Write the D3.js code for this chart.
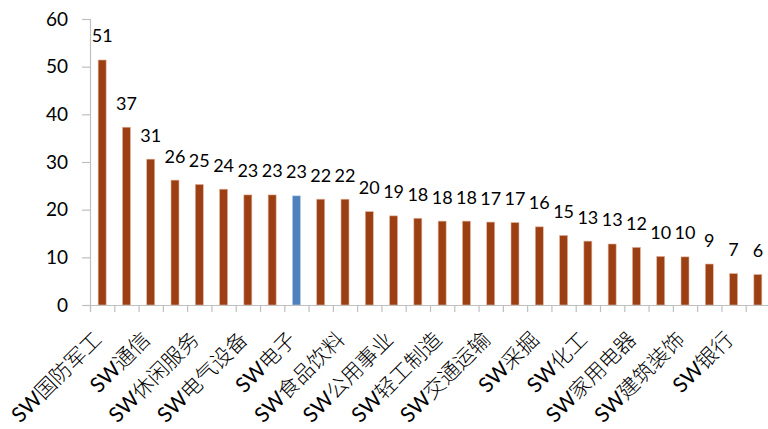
<!DOCTYPE html>
<html>
<head>
<meta charset="utf-8">
<script src="https://cdn.jsdelivr.net/npm/d3@7/dist/d3.min.js"></script>
<style>
  html, body { margin: 0; padding: 0; background: #fff; }
  svg { display: block; }
</style>
</head>
<body>
<svg id="chart" width="768" height="429"></svg>
<script>
// Categories (every other one is labelled on the axis, as in the reference)
const categories = [
  "SW国防军工", "SW计算机", "SW通信", "SW传媒", "SW休闲服务", "SW医药生物",
  "SW电气设备", "SW机械设备", "SW电子", "SW汽车", "SW食品饮料", "SW纺织服装",
  "SW公用事业", "SW商业贸易", "SW轻工制造", "SW农林牧渔", "SW交通运输", "SW有色金属",
  "SW采掘", "SW钢铁", "SW化工", "SW建筑材料", "SW家用电器", "SW房地产",
  "SW建筑装饰", "SW综合", "SW银行", "SW非银金融"
];
const values = [
  51.4, 37.3, 30.6, 26.2, 25.3, 24.3, 23.1, 23.1, 22.9, 22.2, 22.2, 19.6,
  18.7, 18.2, 17.6, 17.6, 17.4, 17.3, 16.4, 14.6, 13.4, 12.8, 12.1, 10.2,
  10.1, 8.6, 6.6, 6.4
];
const highlighted = ["SW电子"];
const yTicks = [0, 10, 20, 30, 40, 50, 60];

const svg = d3.select("#chart");
const x0 = 90, x1 = 770, yBase = 305, yTop = 19;

const x = d3.scaleBand().domain(categories).range([x0, x1]).paddingInner(0).paddingOuter(0);
const xEdge = d3.scaleLinear().domain([0, categories.length]).range([x0, x1]);
const y = d3.scaleLinear().domain([0, 60]).range([yBase, yTop]);

const axisColor = "#BFBFBF";
const font = "Lato, 'Noto Sans CJK SC', sans-serif";
const cjkFont = "'Noto Sans CJK SC', sans-serif";

// Y axis
const yAxis = svg.append("g")
  .attr("transform", `translate(${x0},0)`)
  .call(d3.axisLeft(y).tickValues(yTicks).tickSize(8).tickPadding(14).tickFormat(d3.format("d")));
yAxis.select(".domain").attr("stroke", axisColor).attr("stroke-width", 1.2);
yAxis.selectAll(".tick line").attr("stroke", axisColor).attr("stroke-width", 1.2);
yAxis.selectAll(".tick text")
  .attr("fill", "#000").attr("font-size", 19).attr("font-family", font);

// Bars
const barW = 8;
svg.append("g").selectAll("rect")
  .data(categories)
  .join("rect")
  .attr("x", (d) => x(d) + x.bandwidth() / 2 - barW / 2)
  .attr("y", (d, i) => y(values[i]))
  .attr("width", barW)
  .attr("height", (d, i) => y(0) - y(values[i]))
  .attr("fill", (d) => highlighted.includes(d) ? "#4F81BD" : "#9C3F12")
  .attr("stroke", (d) => highlighted.includes(d) ? "#B9CDE5" : "#E3B7A3")
  .attr("stroke-width", 0.6);

// X axis: line with ticks at category boundaries
const xAxis = svg.append("g")
  .attr("transform", `translate(0,${yBase})`)
  .call(d3.axisBottom(xEdge).tickValues(d3.range(categories.length + 1)).tickSize(7).tickFormat(""));
xAxis.select(".domain").attr("stroke", axisColor).attr("stroke-width", 1.2);
xAxis.selectAll(".tick line").attr("stroke", axisColor).attr("stroke-width", 1.2);

// Category labels (every other), rotated -45
const labels = svg.append("g").selectAll("text")
  .data(categories.filter((d, i) => i % 2 === 0))
  .join("text")
  .attr("transform", (d) => `translate(${x(d) + x.bandwidth() / 2 + 1},${yBase + 36}) rotate(-45)`)
  .attr("text-anchor", "end")
  .attr("font-size", 21)
  .attr("fill", "#000");
labels.append("tspan")
  .attr("font-family", font)
  .text((d) => d.slice(0, 2));
labels.append("tspan")
  .attr("font-family", cjkFont)
  .attr("font-weight", 300)
  .text((d) => d.slice(2));

// Value labels
svg.append("g").selectAll("text")
  .data(categories)
  .join("text")
  .attr("x", (d) => x(d) + x.bandwidth() / 2)
  .attr("y", (d, i) => y(values[i]) - 17.5)
  .attr("text-anchor", "middle")
  .attr("font-size", 18)
  .attr("font-family", font)
  .attr("fill", "#000")
  .text((d, i) => d3.format(".0f")(values[i]));
</script>
</body>
</html>
